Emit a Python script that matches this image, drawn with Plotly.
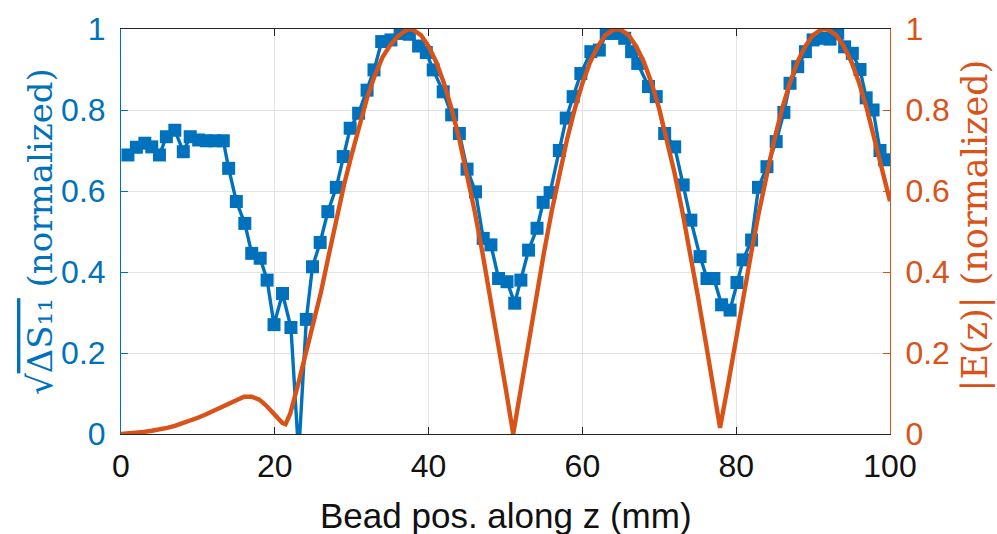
import plotly.graph_objects as go

# Blue series: sqrt(dS11) normalized, measured bead positions (mm)
bead_z = [0.9, 2.0, 3.1, 4.0, 5.0, 5.9, 7.0, 8.1, 9.0, 10.1, 11.1, 12.2, 13.3, 14.0, 15.0,
          16.1, 17.0, 18.1, 19.0, 19.9, 21.0, 22.1, 23.1, 24.1, 24.9, 25.9, 26.9, 28.0, 28.9,
          29.8, 30.9, 32.0, 32.9, 33.9, 35.1, 36.3, 37.5, 38.7, 39.7, 40.6, 41.9, 43.0, 44.0,
          45.0, 46.1, 47.1, 48.1, 49.1, 50.2, 51.2, 52.0, 53.0, 54.1, 54.9, 55.8, 57.0, 57.9,
          58.8, 59.8, 61.1, 62.2, 63.1, 64.2, 65.5, 66.4, 67.2, 68.6, 69.6, 70.7, 72.0, 73.1,
          74.1, 75.3, 76.2, 77.1, 78.1, 79.2, 80.1, 80.9, 82.0, 82.9, 84.0, 85.2, 86.2, 87.0,
          88.0, 89.0, 90.0, 91.2, 92.2, 93.2, 94.1, 95.1, 96.1, 96.9, 97.8, 98.7, 99.3]
s11_norm = [0.689, 0.708, 0.718, 0.709, 0.689, 0.734, 0.750, 0.697, 0.734, 0.726, 0.724, 0.724,
            0.724, 0.656, 0.574, 0.520, 0.446, 0.434, 0.380, 0.270, 0.347, 0.263, -0.05, 0.283,
            0.413, 0.473, 0.549, 0.609, 0.685, 0.755, 0.792, 0.849, 0.899, 0.969, 0.973, 0.989,
            0.987, 0.958, 0.942, 0.899, 0.845, 0.788, 0.742, 0.654, 0.598, 0.483, 0.467, 0.384,
            0.376, 0.323, 0.380, 0.454, 0.508, 0.572, 0.596, 0.700, 0.780, 0.833, 0.890, 0.944,
            0.948, 0.989, 0.989, 0.977, 0.944, 0.915, 0.858, 0.833, 0.742, 0.709, 0.615, 0.528,
            0.438, 0.384, 0.384, 0.319, 0.306, 0.374, 0.430, 0.479, 0.609, 0.660, 0.722, 0.794,
            0.866, 0.907, 0.944, 0.973, 0.977, 0.975, 0.990, 0.956, 0.940, 0.900, 0.830, 0.800,
            0.700, 0.677]

# Orange series: |E(z)| normalized (simulated field)
field_z = [0, 1, 2, 3, 4, 5, 6, 7, 8, 9, 10, 11, 12, 13, 14, 15, 16, 17, 18, 19, 20, 21, 21.4,
           22, 23, 24, 25, 26, 27, 28, 29, 30, 31, 32, 33, 34, 35, 36, 37, 37.5, 38, 39, 40,
           41, 42, 43, 44, 45, 46, 47, 48, 49, 50, 51, 52, 53, 54, 55, 56, 57, 58, 59, 60, 61,
           62, 63, 64, 64.5, 65, 66, 67, 68, 69, 70, 71, 72, 73, 74, 75, 76, 77, 77.9, 79, 80,
           81, 82, 83, 84, 85, 86, 87, 88, 89, 90, 91, 91.5, 92, 93, 94, 95, 96, 97, 98, 99, 100]
field_norm = [0.0, 0.001, 0.003, 0.005, 0.008, 0.011, 0.015, 0.020, 0.026, 0.032, 0.040, 0.048,
              0.057, 0.067, 0.077, 0.086, 0.092, 0.092, 0.085, 0.068, 0.047, 0.027, 0.024,
              0.050, 0.120, 0.195, 0.270, 0.350, 0.440, 0.530, 0.615, 0.690, 0.760, 0.830,
              0.885, 0.930, 0.960, 0.982, 0.996, 1.0, 0.998, 0.985, 0.957, 0.918, 0.866, 0.802,
              0.727, 0.643, 0.549, 0.448, 0.342, 0.231, 0.116, 0.0, 0.116, 0.231, 0.342, 0.448,
              0.549, 0.643, 0.727, 0.802, 0.866, 0.918, 0.957, 0.985, 0.998, 1.0, 0.998, 0.985,
              0.957, 0.918, 0.866, 0.802, 0.727, 0.643, 0.549, 0.448, 0.342, 0.231, 0.116, 0.015,
              0.128, 0.240, 0.348, 0.452, 0.552, 0.646, 0.730, 0.805, 0.868, 0.920, 0.958, 0.985,
              0.998, 1.0, 0.998, 0.985, 0.957, 0.918, 0.866, 0.802, 0.727, 0.650, 0.575]

x_ticks = [0, 20, 40, 60, 80, 100]
y_ticks = [0, 0.2, 0.4, 0.6, 0.8, 1]

BLUE = "#0072BD"
ORANGE = "#D95319"
DARK = "#262626"
GRID = "#e3e3e3"
SANS = "Liberation Sans, Arial, sans-serif"
SERIF = "DejaVu Serif, serif"

fig = go.Figure()
fig.add_trace(go.Scatter(
    x=bead_z, y=s11_norm, mode="lines+markers", yaxis="y",
    line=dict(color=BLUE, width=3.4),
    marker=dict(symbol="square", size=13, color=BLUE),
    showlegend=False, cliponaxis=True))
fig.add_trace(go.Scatter(
    x=field_z, y=field_norm, mode="lines", yaxis="y2",
    line=dict(color=ORANGE, width=4.4),
    showlegend=False, cliponaxis=True))

fig.update_layout(
    width=997, height=534,
    margin=dict(l=121, r=107, t=29, b=100),
    paper_bgcolor="white", plot_bgcolor="white",
    xaxis=dict(range=[0, 100], tickvals=x_ticks, ticks="inside", ticklen=7,
               tickcolor=DARK, showline=True, linecolor=DARK, linewidth=1,
               mirror="ticks", showgrid=True, gridcolor=GRID, zeroline=False,
               ticklabelstandoff=4,
               tickfont=dict(family=SANS, size=32, color="#111111")),
    yaxis=dict(range=[0, 1], tickvals=y_ticks, ticks="inside", ticklen=7,
               tickcolor=BLUE, showline=True, linecolor=BLUE, linewidth=1,
               showgrid=True, gridcolor=GRID, zeroline=False, ticklabelstandoff=8,
               tickfont=dict(family=SANS, size=32, color=BLUE)),
    yaxis2=dict(range=[0, 1], tickvals=y_ticks, ticks="inside", ticklen=7,
                tickcolor=ORANGE, showline=True, linecolor=ORANGE, linewidth=1,
                overlaying="y", side="right", showgrid=False, zeroline=False,
                ticklabelstandoff=8,
                tickfont=dict(family=SANS, size=32, color=ORANGE)),
    annotations=[
        dict(text="Bead pos. along z (mm)", xref="paper", yref="paper", x=0.5, y=-0.2,
             xanchor="center", yanchor="middle", showarrow=False,
             font=dict(family=SANS, size=35, color="#111111")),
        dict(text="√<span style='text-decoration:overline'>ΔS₁₁</span> (normalized)",
             xref="paper", yref="paper", x=-0.106, y=0.5, textangle=-90,
             xanchor="center", yanchor="middle", showarrow=False,
             font=dict(family=SERIF, size=34, color=BLUE)),
        dict(text="|E(z)| (normalized)", xref="paper", yref="paper", x=1.1105, y=0.515,
             textangle=-90, xanchor="center", yanchor="middle", showarrow=False,
             font=dict(family=SERIF, size=35, color=ORANGE)),
    ],
)

fig.write_html("out.html")
